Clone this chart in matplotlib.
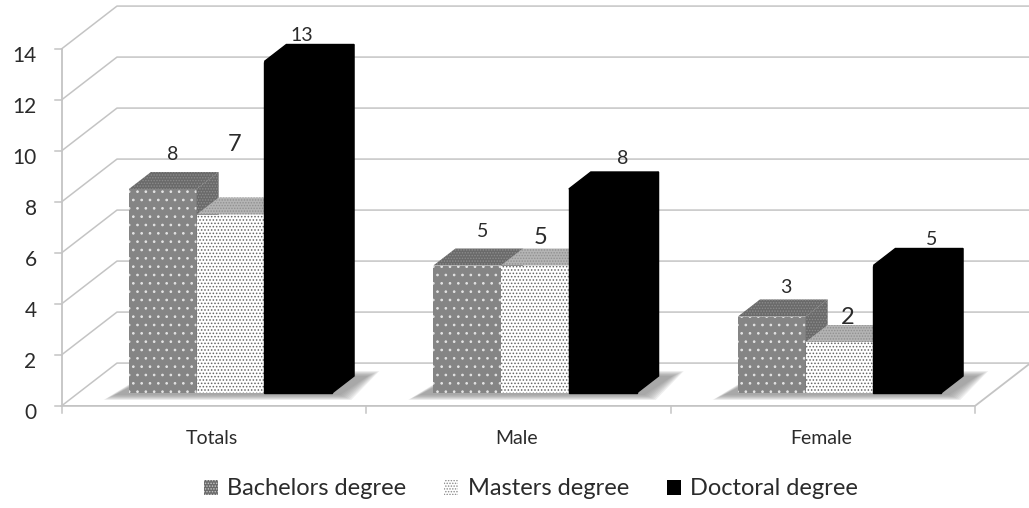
import matplotlib
matplotlib.use("Agg")
import matplotlib.pyplot as plt
from matplotlib.patches import Patch

categories = ['Totals', 'Male', 'Female']
series_names = ['Bachelors degree', 'Masters degree', 'Doctoral degree']
bachelors = [8, 5, 3]
masters = [7, 5, 2]
doctoral = [13, 8, 5]
y_ticks = [0, 2, 4, 6, 8, 10, 12, 14]

# label nudges in pixels above the bar's back edge, placed by hand in the original
bachelors_nudge = [(10, 17), (15, 17), (14, 12)]
masters_nudge = [(4, 53), (6, 11), (8, 8)]
doctoral_nudge = [(4, 9), (20, 13), (24, 9)]

W, H = 1029, 508
X_UNIT = 304.5
Y_UNIT = 25.5
X0 = 230.5
Y0 = 393
BAR_W = 67.7 / X_UNIT
DEPTH_X = 22 / X_UNIT
DEPTH_Y = 17 / Y_UNIT
FRONT = -0.76
BACK = 1.76
GRID = '#c4c4c4'
TEXT = '#2b2b2b'

plt.rcParams['font.family'] = ['Lato', 'DejaVu Sans']
plt.rcParams['hatch.linewidth'] = 0.7


def px(x, d):
    return x + d * DEPTH_X


def py(y, d):
    return y + d * DEPTH_Y


def draw_bar(ax, x, value, face, hatch, hatch_color, top, top_hatch, z):
    left = x - BAR_W / 2
    right = x + BAR_W / 2
    solid = hatch is None
    ax.bar(x, value, BAR_W, facecolor=face, hatch=hatch,
           edgecolor=hatch_color, linewidth=1 if solid else 0, zorder=z)
    ax.fill([left, right, px(right, 1), px(left, 1)],
            [value, value, py(value, 1), py(value, 1)],
            facecolor=top, hatch=None if solid else '......', edgecolor=top_hatch,
            linewidth=1 if solid else 0, zorder=z)
    ax.fill([right, px(right, 1), px(right, 1), right],
            [0, py(0, 1), py(value, 1), value],
            facecolor=top, hatch=None if solid else '......', edgecolor=top_hatch,
            linewidth=1 if solid else 0, zorder=z)


def draw_shadow(ax, x):
    left = x - 1.5 * BAR_W
    right = x + 1.5 * BAR_W
    for grow in range(7, -1, -1):
        gx = grow * 1.6 / X_UNIT
        gy = grow * 0.7 / Y_UNIT
        ax.fill([left - 14 / X_UNIT - gx, right + 8 / X_UNIT + gx,
                 px(right, 1) + 14 / X_UNIT + gx, px(left, 1)],
                [-2 / Y_UNIT - gy, -2 / Y_UNIT - gy,
                 py(0, 1) + gy, py(0, 1) + gy],
                color='#808080', alpha=0.13, linewidth=0, zorder=2)


def main():
    fig = plt.figure(figsize=(W / 100, H / 100), dpi=100)
    ax = fig.add_axes([0, 0, 1, 1])
    ax.set_xlim(-X0 / X_UNIT, (W - X0) / X_UNIT)
    ax.set_ylim((Y0 - H) / Y_UNIT, Y0 / Y_UNIT)
    ax.axis('off')

    x_left, x_right = -0.5, 2.5

    # walls
    for tick in y_ticks:
        ax.plot([px(x_left, FRONT), px(x_left, BACK), px(x_right, BACK)],
                [py(tick, FRONT), py(tick, BACK), py(tick, BACK)],
                color=GRID, lw=1.1, zorder=1)
        ax.plot([px(x_left, FRONT) - 7 / X_UNIT, px(x_left, FRONT)],
                [py(tick, FRONT), py(tick, FRONT)], color=GRID, lw=1.1, zorder=1)
        ax.text(px(x_left, FRONT) - 25 / X_UNIT, py(tick, FRONT) - 7 / Y_UNIT, str(tick),
                ha='right', va='center', fontsize=15, color=TEXT)

    # floor and front axes
    ax.plot([px(x_left, FRONT), px(x_left, FRONT)],
            [py(0, FRONT), py(14, FRONT)], color=GRID, lw=1.3, zorder=1)
    ax.plot([px(x_left, FRONT), px(x_right, FRONT), px(x_right, BACK)],
            [py(0, FRONT), py(0, FRONT), py(0, BACK)], color=GRID, lw=1.3, zorder=1)
    for i in range(len(categories) + 1):
        ax.plot([px(x_left + i, FRONT)] * 2,
                [py(0, FRONT), py(0, FRONT) - 7 / Y_UNIT],
                color=GRID, lw=1.1, zorder=1)

    for i, name in enumerate(categories):
        draw_shadow(ax, i)
        draw_bar(ax, i - BAR_W, bachelors[i], '#858585', '..', '#e4e4e4',
                 '#6a6a6a', '#8c8c8c', 3)
        draw_bar(ax, i, masters[i], 'white', '.....', '#666666',
                 '#b4b4b4', '#909090', 4)
        draw_bar(ax, i + BAR_W, doctoral[i], 'black', None, 'black',
                 'black', 'black', 5)
        ax.text(i - 0.06, -45 / Y_UNIT, name, ha='center', va='center',
                fontsize=14, color=TEXT)

    # value labels
    for offset, values, nudges, size in [(-BAR_W, bachelors, bachelors_nudge, 14),
                                         (0, masters, masters_nudge, 17),
                                         (BAR_W, doctoral, doctoral_nudge, 14)]:
        for i, value in enumerate(values):
            ax.annotate(str(value), (i + offset, value),
                        xytext=(nudges[i][0], 17 + nudges[i][1]),
                        textcoords='offset pixels', ha='center', va='center',
                        fontsize=size, color=TEXT, zorder=6)

    handles = [Patch(facecolor='#6a6a6a', hatch='......', edgecolor='#c8c8c8', linewidth=0),
               Patch(facecolor='white', hatch='......', edgecolor='#8a8a8a', linewidth=0),
               Patch(facecolor='black', linewidth=0)]
    fig.legend(handles, series_names, loc='center', bbox_to_anchor=(0.516, 0.0375),
               ncol=3, frameon=False, fontsize=17, handlelength=0.6, handleheight=0.6,
               handletextpad=0.4, columnspacing=1.6, labelcolor=TEXT)

    fig.savefig('out.png', dpi=100)


if __name__ == "__main__":
    main()
